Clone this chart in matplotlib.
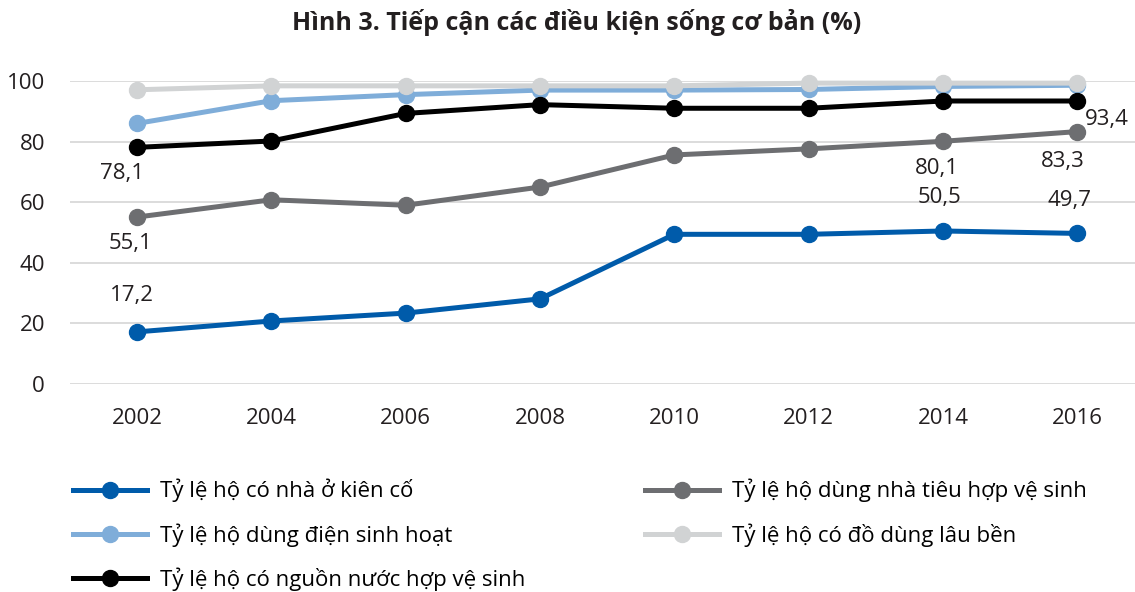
import matplotlib.pyplot as plt

plt.rcParams['font.family'] = ['Open Sans', 'DejaVu Sans']

years = [2002, 2004, 2006, 2008, 2010, 2012, 2014, 2016]

kien_co = [17.2, 20.8, 23.4, 28.1, 49.4, 49.4, 50.5, 49.7]
nha_tieu = [55.1, 60.8, 59.0, 65.0, 75.6, 77.6, 80.1, 83.3]
dien = [86.0, 93.5, 95.5, 97.0, 97.0, 97.2, 98.2, 98.6]
nuoc = [78.1, 80.2, 89.3, 92.2, 91.0, 91.0, 93.4, 93.4]
do_dung = [97.1, 98.4, 98.4, 98.4, 98.4, 99.3, 99.3, 99.3]

names = ['Tỷ lệ hộ có nhà ở kiên cố',
         'Tỷ lệ hộ dùng điện sinh hoạt',
         'Tỷ lệ hộ có nguồn nước hợp vệ sinh',
         'Tỷ lệ hộ dùng nhà tiêu hợp vệ sinh',
         'Tỷ lệ hộ có đồ dùng lâu bền']
colors = ['#005BAA', '#7FADD9', '#000000', '#6D6E71', '#D1D3D4']
series = [kien_co, dien, nuoc, nha_tieu, do_dung]

# (series index, year index, text, dx px, dy px)
labels = [
    (0, 0, '17,2', -5, 36),
    (3, 0, '55,1', -7, -26),
    (2, 0, '78,1', -15, -26),
    (3, 6, '80,1', -6, -27),
    (3, 7, '83,3', -15, -30),
    (0, 6, '50,5', -3, 33),
    (0, 7, '49,7', -8, 33),
    (2, 7, '93,4', 30, -19),
]

fig = plt.figure(figsize=(11.35, 5.92), dpi=100)
ax = fig.add_axes([70 / 1135, 1 - 384 / 592, 1 - 70 / 1135, (384 - 81) / 592])

handles = []
for vals, c, n in zip(series, colors, names):
    h, = ax.plot(years, vals, color=c, lw=3.6, marker='o', ms=11.5,
                 clip_on=False, zorder=3, label=n)
    handles.append(h)

for si, yi, txt, dx, dy in labels:
    ax.annotate(txt, (years[yi], series[si][yi]), xytext=(dx, dy),
                textcoords='offset pixels', ha='center', va='center',
                fontsize=16, color='#231F20')

ax.set_xlim(2001, 2016.86)
ax.set_ylim(0, 100)
ax.set_yticks(range(0, 101, 20))
ax.set_xticks(years)
ax.grid(axis='y', color='#D9D9D9', lw=1.3)
ax.set_axisbelow(True)
for s in ax.spines.values():
    s.set_visible(False)
ax.tick_params(length=0, labelsize=16, labelcolor='#231F20')
ax.tick_params(axis='y', pad=18)
ax.tick_params(axis='x', pad=17)

fig.suptitle('Hình 3. Tiếp cận các điều kiện sống cơ bản (%)', y=0.985,
             fontsize=18, fontweight='bold', color='#231F20', x=0.508)

leg_kw = dict(frameon=False, fontsize=16, handlelength=3.33,
              handletextpad=0.6, labelspacing=0.93, borderpad=0,
              borderaxespad=0, loc='upper left')
fig.legend(handles[:3], names[:3], bbox_to_anchor=(73 / 1135, 1 - 479 / 592), **leg_kw)
fig.legend(handles[3:], names[3:], bbox_to_anchor=(645 / 1135, 1 - 479 / 592), **leg_kw)

fig.savefig('out.png', dpi=100)
